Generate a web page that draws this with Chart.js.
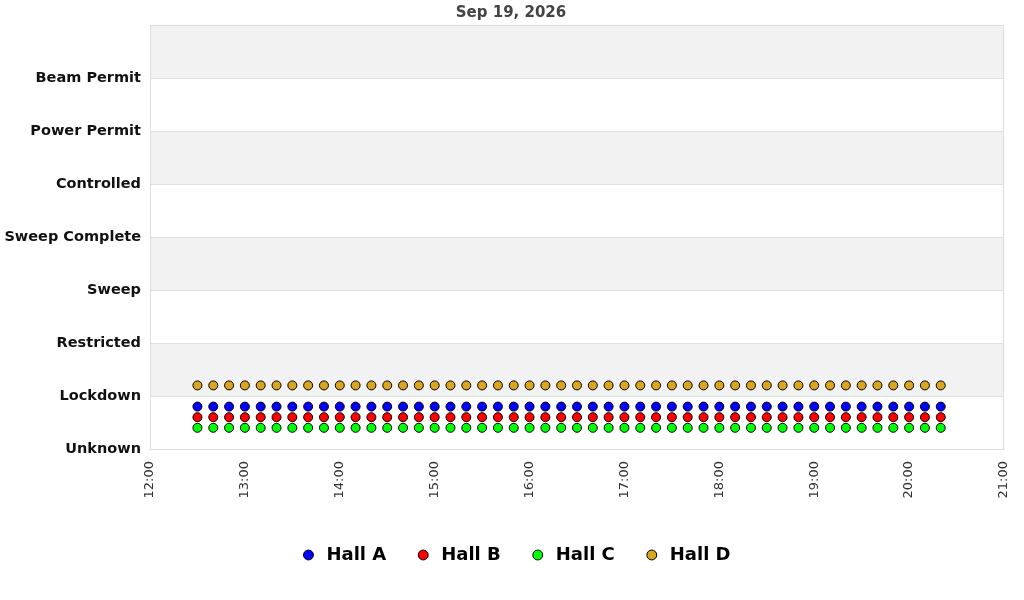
<!DOCTYPE html>
<html>
<head>
<meta charset="utf-8">
<title>Hall status</title>
<script src="https://cdn.jsdelivr.net/npm/chart.js@4.4.1/dist/chart.umd.min.js"></script>
<style>
  html, body { margin: 0; padding: 0; background: #fff; }
  #wrap { width: 1024px; height: 600px; position: relative; }
</style>
</head>
<body>
<div id="wrap"><canvas id="grafico"></canvas></div>
<script>
// Título do gráfico
const chartTitle = "Sep 19, 2026";

// Nomes dos estados (índice = valor no eixo y)
const stateNames = ["Unknown", "Lockdown", "Restricted", "Sweep", "Sweep Complete",
  "Controlled", "Power Permit", "Beam Permit", ""];

// Rótulos do eixo x (horas)
const hourTicks = ["12:00", "13:00", "14:00", "15:00", "16:00", "17:00", "18:00", "19:00", "20:00", "21:00"];

// Horários das amostras
const sampleTimes = ["12:30", "12:40", "12:50", "13:00", "13:10", "13:20", "13:30", "13:40", "13:50",
  "14:00", "14:10", "14:20", "14:30", "14:40", "14:50", "15:00", "15:10", "15:20", "15:30", "15:40", "15:50",
  "16:00", "16:10", "16:20", "16:30", "16:40", "16:50", "17:00", "17:10", "17:20", "17:30", "17:40", "17:50",
  "18:00", "18:10", "18:20", "18:30", "18:40", "18:50", "19:00", "19:10", "19:20", "19:30", "19:40", "19:50",
  "20:00", "20:10", "20:20"];

// Estado de cada hall (1 = Lockdown)
const hallA = [1, 1, 1, 1, 1, 1, 1, 1, 1, 1, 1, 1, 1, 1, 1, 1, 1, 1, 1, 1, 1, 1, 1, 1,
  1, 1, 1, 1, 1, 1, 1, 1, 1, 1, 1, 1, 1, 1, 1, 1, 1, 1, 1, 1, 1, 1, 1, 1];
const hallB = [1, 1, 1, 1, 1, 1, 1, 1, 1, 1, 1, 1, 1, 1, 1, 1, 1, 1, 1, 1, 1, 1, 1, 1,
  1, 1, 1, 1, 1, 1, 1, 1, 1, 1, 1, 1, 1, 1, 1, 1, 1, 1, 1, 1, 1, 1, 1, 1];
const hallC = [1, 1, 1, 1, 1, 1, 1, 1, 1, 1, 1, 1, 1, 1, 1, 1, 1, 1, 1, 1, 1, 1, 1, 1,
  1, 1, 1, 1, 1, 1, 1, 1, 1, 1, 1, 1, 1, 1, 1, 1, 1, 1, 1, 1, 1, 1, 1, 1];
const hallD = [1, 1, 1, 1, 1, 1, 1, 1, 1, 1, 1, 1, 1, 1, 1, 1, 1, 1, 1, 1, 1, 1, 1, 1,
  1, 1, 1, 1, 1, 1, 1, 1, 1, 1, 1, 1, 1, 1, 1, 1, 1, 1, 1, 1, 1, 1, 1, 1];

const hallNames = ["Hall A", "Hall B", "Hall C", "Hall D"];

// Converte "HH:MM" em minutos
function paraMinutos(hhmm) {
  const partes = hhmm.split(":");
  return Number(partes[0]) * 60 + Number(partes[1]);
}

// Monta os pontos de um hall com um pequeno deslocamento vertical
function montarPontos(estados, deslocamento) {
  return sampleTimes.map((t, i) => ({ x: paraMinutos(t), y: estados[i] + deslocamento }));
}

// Faixas alternadas no fundo e moldura da área do gráfico
const faixasPlugin = {
  id: "faixas",
  afterLayout(chart) {
    // centraliza título e legenda na página inteira
    chart.legend.left += 13;
    chart.legend.right += 13;
    chart.titleBlock.left += 9;
    chart.titleBlock.right += 9;
  },
  beforeDraw(chart) {
    const { ctx, chartArea, scales } = chart;
    const y = scales.y;
    ctx.save();
    for (let i = 0; i < stateNames.length; i++) {
      if (i % 2 === 1) {
        const top = y.getPixelForValue(i + 1);
        const bottom = y.getPixelForValue(i);
        ctx.fillStyle = "#f2f2f2";
        ctx.fillRect(chartArea.left, top, chartArea.right - chartArea.left, bottom - top);
      }
    }
    ctx.restore();
  },
  afterDatasetsDraw(chart) {
    const { ctx, chartArea } = chart;
    ctx.save();
    ctx.strokeStyle = "#dcdcdc";
    ctx.lineWidth = 1;
    ctx.strokeRect(chartArea.left + 0.5, chartArea.top + 0.5,
      chartArea.right - chartArea.left - 1, chartArea.bottom - chartArea.top);
    ctx.restore();
  }
};

function estiloPonto(cor) {
  return {
    backgroundColor: cor,
    borderColor: "#000",
    borderWidth: 1,
    pointRadius: 4.5,
    pointHoverRadius: 4.5,
    pointStyle: "circle",
    showLine: false
  };
}

function gerarGrafico() {
  const ctx = document.getElementById("grafico").getContext("2d");
  new Chart(ctx, {
    type: "scatter",
    data: {
      datasets: [
        Object.assign({ label: hallNames[0], data: montarPontos(hallA, -0.2) }, estiloPonto("#0000ff")),
        Object.assign({ label: hallNames[1], data: montarPontos(hallB, -0.4) }, estiloPonto("#ff0000")),
        Object.assign({ label: hallNames[2], data: montarPontos(hallC, -0.6) }, estiloPonto("#00ff00")),
        Object.assign({ label: hallNames[3], data: montarPontos(hallD, 0.2) }, estiloPonto("#daa520"))
      ]
    },
    options: {
      responsive: true,
      maintainAspectRatio: false,
      animation: false,
      devicePixelRatio: 1,
      layout: { padding: { left: 0, right: 20, top: 0, bottom: 26 } },
      plugins: {
        title: {
          display: true,
          text: chartTitle,
          color: "#444",
          font: { family: "DejaVu Sans", size: 15, weight: "bold" },
          padding: { top: 4, bottom: 3 }
        },
        legend: {
          display: true,
          position: "bottom",
          labels: {
            usePointStyle: true,
            pointStyle: "circle",
            boxWidth: 18,
            boxHeight: 7,
            padding: 28,
            color: "#000",
            font: { family: "DejaVu Sans", size: 18, weight: "bold" }
          }
        },
        tooltip: { enabled: false }
      },
      scales: {
        x: {
          type: "linear",
          min: paraMinutos(hourTicks[0]),
          max: paraMinutos(hourTicks[hourTicks.length - 1]),
          afterBuildTicks(scale) {
            scale.ticks = hourTicks.map((h) => ({ value: paraMinutos(h) }));
          },
          afterFit(scale) { scale.height = 69; },
          grid: { display: false },
          border: { display: true, color: "#dcdcdc" },
          ticks: {
            minRotation: 90,
            maxRotation: 90,
            padding: 4,
            color: "#333",
            font: { family: "DejaVu Sans", size: 13 },
            callback: (v) => {
              const h = hourTicks.find((t) => paraMinutos(t) === v);
              return h || "";
            }
          }
        },
        y: {
          min: 0,
          max: stateNames.length - 1,
          afterFit(scale) { scale.width = 150; },
          grid: { color: "#e0e0e0", drawTicks: false },
          border: { display: false },
          ticks: {
            stepSize: 1,
            padding: 9,
            color: "#111",
            font: { family: "DejaVu Sans", size: 14.5, weight: "bold" },
            callback: (v) => stateNames[v] || ""
          }
        }
      }
    },
    plugins: [faixasPlugin]
  });
}

document.addEventListener("DOMContentLoaded", gerarGrafico);
</script>
</body>
</html>
